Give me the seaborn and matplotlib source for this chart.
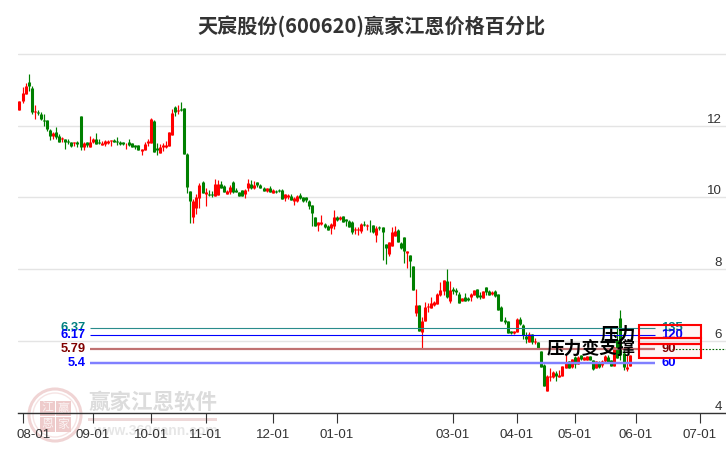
import numpy as np
import pandas as pd
import matplotlib
matplotlib.use("Agg")
import matplotlib.pyplot as plt
import matplotlib.patches as mpatches
from matplotlib.transforms import ScaledTranslation
import seaborn as sns

title = "天宸股份(600620)赢家江恩价格百分比"

opens = [12.44,12.69,12.88,13.22,13.05,12.38,12.38,12.33,12.16,12.16,
 11.88,11.71,11.83,11.71,11.63,11.63,11.57,11.55,11.51,11.55,
 12.27,11.41,11.54,11.41,11.55,11.63,11.54,11.46,11.49,11.52,
 11.57,11.60,11.57,11.55,11.54,11.48,11.54,11.52,11.45,11.45,
 11.30,11.32,11.52,11.52,12.13,11.37,11.24,11.41,11.41,11.44,
 11.74,12.52,12.41,12.46,12.49,11.21,10.18,9.46,9.71,9.99,
 10.43,10.10,10.10,10.09,10.04,10.07,10.38,10.32,10.10,10.15,
 10.43,10.21,10.15,10.21,10.10,10.27,10.38,10.27,10.44,10.35,
 10.27,10.19,10.27,10.13,10.19,10.21,10.21,9.99,10.02,10.05,
 9.91,9.91,10.07,10.01,10.02,9.91,9.79,9.46,9.24,9.27,
 9.27,9.21,9.15,9.21,9.46,9.40,9.49,9.40,9.35,9.32,
 9.10,9.10,9.07,9.27,9.21,9.24,9.24,8.96,9.18,9.18,
 8.71,8.43,8.65,8.93,9.10,8.74,8.90,8.46,8.40,8.10,
 6.79,7.01,6.26,6.56,6.95,6.93,7.01,7.04,7.29,7.40,
 7.68,7.12,7.46,7.43,7.32,7.12,7.23,7.20,7.23,7.29,
 7.46,7.29,7.20,7.51,7.40,7.32,7.40,7.32,6.95,6.59,
 6.56,6.29,6.23,6.26,6.62,6.45,6.14,5.98,6.20,5.98,
 5.98,5.73,5.34,4.61,5.00,5.00,5.11,5.00,5.03,5.25,
 5.45,5.28,5.56,5.36,5.61,5.48,5.48,5.57,5.48,5.24,
 5.39,5.34,5.45,5.56,5.48,5.31,6.03,6.65,5.67,5.23,5.31]

highs = [12.69,13.08,13.19,13.44,13.11,12.57,12.44,12.38,12.33,12.16,
 11.91,11.83,11.96,11.77,11.69,11.63,11.63,11.55,11.55,11.57,
 12.27,11.55,11.54,11.71,11.66,11.80,11.63,11.57,11.60,11.60,
 11.60,11.63,11.69,11.57,11.55,11.52,11.63,11.52,11.46,11.45,
 11.35,11.55,11.63,12.22,12.16,11.52,11.49,11.52,11.57,11.83,
 12.47,12.55,12.58,12.66,12.49,11.24,10.18,9.96,10.10,10.40,
 10.46,10.27,10.21,10.18,10.52,10.49,10.46,10.35,10.21,10.35,
 10.46,10.27,10.15,10.21,10.24,10.52,10.49,10.46,10.44,10.38,
 10.30,10.27,10.32,10.24,10.21,10.24,10.24,10.10,10.10,10.10,
 10.02,10.07,10.13,10.02,10.02,9.93,9.79,9.46,9.32,9.52,
 9.29,9.24,9.29,9.66,9.49,9.49,9.49,9.40,9.38,9.35,
 9.18,9.18,9.29,9.35,9.27,9.38,9.24,9.21,9.21,9.18,
 8.71,8.76,9.18,9.21,9.13,8.76,8.90,8.51,8.40,8.10,
 7.46,7.01,6.68,7.09,7.06,7.23,7.12,7.34,7.65,7.71,
 8.01,7.68,7.51,7.48,7.37,7.20,7.34,7.23,7.34,7.43,
 7.46,7.37,7.40,7.51,7.43,7.40,7.43,7.32,6.98,6.68,
 6.56,6.29,6.29,6.65,6.67,6.48,6.26,6.26,6.20,6.08,
 5.98,5.73,5.36,5.06,5.25,5.17,5.17,5.20,5.31,5.61,
 5.45,5.50,5.59,5.59,5.61,5.56,5.59,5.59,5.48,5.45,
 5.43,5.48,5.61,5.61,5.48,5.84,6.40,6.87,5.75,5.62,5.62]

lows = [12.44,12.64,12.88,12.96,12.33,12.19,12.29,12.16,11.99,11.85,
 11.60,11.63,11.63,11.55,11.55,11.35,11.49,11.41,11.44,11.41,
 11.32,11.32,11.41,11.41,11.52,11.49,11.49,11.46,11.44,11.49,
 11.44,11.55,11.46,11.46,11.46,11.35,11.44,11.41,11.35,11.32,
 11.19,11.32,11.44,11.52,11.27,11.19,11.24,11.30,11.38,11.44,
 11.74,12.27,12.33,12.41,11.21,10.13,9.29,9.29,9.54,9.71,
 10.13,9.76,10.04,10.02,10.04,10.07,10.27,10.15,10.10,10.10,
 10.13,10.15,10.04,10.05,9.99,10.19,10.24,10.24,10.30,10.27,
 10.19,10.16,10.16,10.13,10.13,10.16,9.96,9.91,9.96,9.93,
 9.79,9.88,9.96,9.88,9.88,9.68,9.21,9.21,9.07,9.24,
 9.15,9.10,8.99,9.13,9.35,9.38,9.32,9.21,9.18,8.99,
 8.99,8.96,9.01,9.21,9.10,9.04,9.01,8.76,9.10,8.26,
 8.15,8.37,8.65,8.93,8.76,8.57,8.18,8.04,7.79,7.43,
 6.70,6.29,5.81,6.56,6.81,6.93,6.98,7.04,7.26,7.29,
 7.20,7.06,7.32,7.29,7.06,7.12,7.12,7.12,7.12,7.29,
 7.20,7.18,7.20,7.29,7.29,7.29,7.23,6.87,6.56,6.48,
 6.23,6.20,6.20,6.26,6.45,6.06,5.95,5.98,5.92,5.92,
 5.78,5.28,4.75,4.61,4.89,4.97,4.89,5.00,5.03,5.25,
 5.25,5.25,5.25,5.36,5.48,5.48,5.48,5.48,5.20,5.24,
 5.25,5.28,5.42,5.38,5.31,5.31,5.53,5.48,5.20,5.17,5.31]

closes = [12.69,12.90,13.11,13.09,12.38,12.41,12.35,12.19,12.13,11.91,
 11.71,11.80,11.69,11.55,11.66,11.55,11.55,11.44,11.53,11.50,
 11.41,11.52,11.46,11.55,11.63,11.49,11.51,11.52,11.57,11.57,
 11.59,11.55,11.55,11.49,11.50,11.50,11.46,11.41,11.41,11.32,
 11.35,11.49,11.57,12.19,11.27,11.31,11.41,11.46,11.46,11.83,
 12.35,12.38,12.44,12.43,11.21,10.29,9.90,9.89,10.02,10.35,
 10.13,10.15,10.07,10.06,10.38,10.38,10.27,10.15,10.18,10.29,
 10.15,10.15,10.04,10.05,10.21,10.41,10.27,10.35,10.35,10.27,
 10.19,10.26,10.16,10.21,10.16,10.19,9.96,10.10,10.07,9.93,
 9.99,10.05,9.99,9.91,9.93,9.77,9.57,9.21,9.32,9.32,
 9.18,9.10,9.27,9.46,9.38,9.46,9.32,9.35,9.18,9.04,
 9.13,9.13,9.27,9.24,9.24,9.22,9.04,9.15,9.15,9.04,
 8.60,8.76,9.04,9.07,8.76,8.60,8.51,8.51,8.23,7.43,
 7.01,6.29,6.56,6.95,6.98,7.06,7.09,7.32,7.43,7.71,
 7.23,7.43,7.40,7.37,7.06,7.20,7.12,7.15,7.32,7.43,
 7.23,7.23,7.40,7.37,7.29,7.37,7.26,6.87,6.56,6.54,
 6.23,6.23,6.29,6.62,6.48,6.17,6.06,6.19,5.98,6.00,
 5.78,5.28,4.75,5.03,5.03,5.14,5.03,5.06,5.31,5.42,
 5.25,5.50,5.36,5.56,5.50,5.56,5.59,5.48,5.23,5.45,
 5.28,5.45,5.59,5.42,5.31,5.83,5.53,5.62,5.28,5.28,5.62]

month_pos = [1, 24, 43, 61, 83, 104, 142, 163, 182, 202, 223]
month_labels = ["08-01","09-01","10-01","11-01","12-01","01-01","03-01","04-01","05-01","06-01","07-01"]
price_ticks = [4, 6, 8, 10, 12, 14]
price_labels = ["4", "6", "8", "10", "12", ""]

level_values = [6.37, 6.17, 5.79, 5.4]
level_texts = ["6.37", "6.17", "5.79", "5.4"]
level_pcts = ["135", "120", "90", "60"]
level_text_colors = ["#008080", "#0000ff", "#800000", "#0000ff"]
level_line_colors = ["#2a8c8c", "#0000ff", "#c07272", "#8080ff"]
level_widths = [1.0, 1.0, 2.0, 2.2]
box_edges = [6.45, 6.09, 5.92, 5.53]

W, H = 726, 450
sns.set_theme(style="white")
plt.rcParams["font.family"] = ["Liberation Sans", "Noto Sans CJK SC", "DejaVu Sans"]
CJK = ["Noto Sans CJK SC", "DejaVu Sans"]

fig = plt.figure(figsize=(W / 100, H / 100), dpi=100, facecolor="white")
ax = fig.add_axes([18 / W, 1 - 412.8 / H, 708 / W, 368.8 / H])
ax.patch.set_visible(False)

idx = np.arange(len(opens))
status = np.where(np.array(closes) >= np.array(opens), "up", "down")
palette = {"up": "#ff0000", "down": "#008000"}
base = pd.DataFrame({"i": idx, "dir": status, "o": opens, "h": highs, "l": lows, "c": closes})
wicks = base.melt(id_vars=["i", "dir"], value_vars=["h", "l"], value_name="price")
bodies = base.melt(id_vars=["i", "dir"], value_vars=["o", "c"], value_name="price")

sns.lineplot(data=wicks, x="i", y="price", hue="dir", units="i", estimator=None, palette=palette,
             linewidth=0.85, legend=False, ax=ax, solid_capstyle="butt", zorder=3, sort=False)
sns.lineplot(data=bodies, x="i", y="price", hue="dir", units="i", estimator=None, palette=palette,
             linewidth=2.2, legend=False, ax=ax, solid_capstyle="butt", zorder=3, sort=False)

ax.set_xlim(-0.49, 231.6)
ax.set_ylim(4, 4 + 368.8 / 35.9)
ax.set_xlabel("")
ax.set_ylabel("")

# axes
for s in ["top", "left", "right"]:
    ax.spines[s].set_visible(False)
ax.spines["bottom"].set_color("#333333")
ax.spines["bottom"].set_linewidth(1.0)
ax.set_axisbelow(True)
ax.yaxis.grid(True, color="#e4e4e4", linewidth=1.0)
ax.xaxis.grid(False)
ax.set_yticks(price_ticks)
ax.set_yticklabels(price_labels)
ax.yaxis.tick_right()
ax.tick_params(axis="y", length=0, pad=-3, labelsize=9.6, labelcolor="#333333")
for t in ax.get_yticklabels():
    t.set_ha("right")
    t.set_va("bottom")
ax.set_xticks(month_pos)
ax.set_xticklabels(month_labels)
ax.tick_params(axis="x", bottom=True, length=7, width=0.8, color="#333333", pad=4.5,
               labelsize=9.6, labelcolor="#333333")
first = ax.get_xticklabels()[0]
first.set_transform(first.get_transform() + ScaledTranslation(-0.065, 0, fig.dpi_scale_trans))
first.set_ha("left")

# level lines
x_line0, x_line1 = 23.2, 208.4
for v, txt, pct, tc, lc, lw in zip(level_values, level_texts, level_pcts, level_text_colors,
                                   level_line_colors, level_widths):
    ax.hlines(v, x_line0, x_line1, color=lc, linewidth=lw * 0.8, zorder=4)
    ax.text(21.6, v, txt, color=tc, fontsize=9.3, fontweight="bold", ha="right", va="center",
            zorder=5)
    ax.text(210.3, v, pct, color=tc, fontsize=9.4, fontweight="bold", ha="left", va="center",
            zorder=5)
ax.hlines(level_values[2], 214, 231.6, color="#006400", linewidth=0.8, linestyles=(0, (1.5, 1.5)), zorder=4)

# stacked boxes
for top, bot in zip(box_edges[:-1], box_edges[1:]):
    ax.add_patch(mpatches.Rectangle((203.1, bot), 20.3, top - bot, facecolor="#ff0000", alpha=0.04, zorder=5))
    ax.add_patch(mpatches.Rectangle((203.1, bot), 20.3, top - bot, fill=False, edgecolor="#ff0000",
                                    linewidth=1.5, zorder=6))

# overlaid words
ax.text(202.0, 6.17, "压力", family=CJK, fontsize=12.8, fontweight="bold", color="black",
        ha="right", va="center", zorder=7)
ax.text(202.0, 5.79, "压力变支撑", family=CJK, fontsize=12.8, fontweight="bold", color="black",
        ha="right", va="center", zorder=7)

# title
fig.text(371 / W, 1 - 26 / H, title, family=CJK, fontsize=14.5, fontweight="bold", color="#333333",
         ha="center", va="center")

# watermark, behind the axes
def fx(x): return x / W
def fy(y): return 1 - y / H
fig.text(fx(152.5), fy(402), "赢家江恩软件", family=CJK, fontsize=15.5, fontweight="bold", color="#dcdcdc",
         ha="center", va="center", zorder=-1)
fig.text(fx(155), fy(431), "www.360gann.com", fontsize=10, fontweight="bold", color="#e6e6e6",
         ha="center", va="center", zorder=-1)
fig.add_artist(mpatches.Rectangle((fx(88), fy(420.5)), 129 / W, 3 / H, transform=fig.transFigure,
                                  facecolor="#eed8d8", edgecolor="none", zorder=-1))
fig.add_artist(mpatches.Ellipse((fx(55), fy(415)), 52 / W, 52 / H, transform=fig.transFigure,
                                facecolor="none", edgecolor="#f0d4d4", linewidth=2.2, zorder=-1))
fig.add_artist(mpatches.Ellipse((fx(55), fy(415)), 44 / W, 44 / H, transform=fig.transFigure,
                                facecolor="none", edgecolor="#f6e4e4", linewidth=1.0, zorder=-1))
for cx, cy, ch in [(47, 408, "江"), (63, 408, "赢"), (47, 424, "恩"), (63, 424, "家")]:
    fig.add_artist(mpatches.Rectangle((fx(cx - 7.5), fy(cy + 7.5)), 15 / W, 15 / H, transform=fig.transFigure,
                                      facecolor="#eecbcb", edgecolor="none", zorder=-1))
    fig.text(fx(cx), fy(cy), ch, family=CJK, fontsize=8.5, color="#fbf3f3", ha="center", va="center", zorder=-1)

fig.savefig("out.png", dpi=100, facecolor="white")
